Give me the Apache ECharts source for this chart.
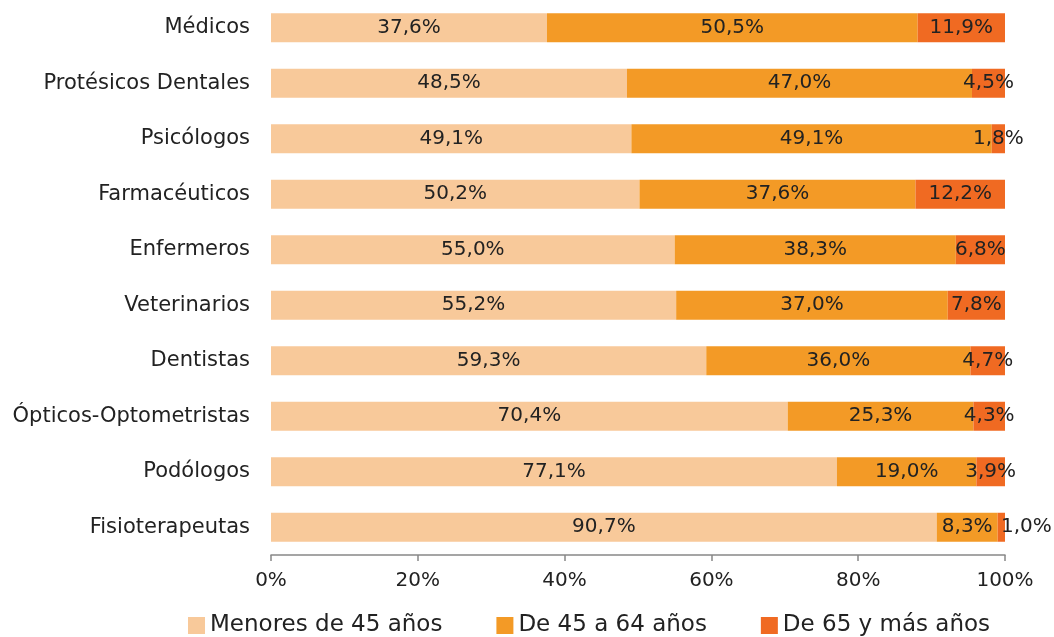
<!DOCTYPE html>
<html>
<head>
<meta charset="utf-8">
<script src="https://cdn.jsdelivr.net/npm/echarts@6/dist/echarts.min.js"></script>
<style>
  html, body { margin: 0; padding: 0; background: #fff; }
  #chart { width: 1054px; height: 637px; }
</style>
</head>
<body>
<div id="chart"></div>
<script>
let categories = ["Médicos", "Protésicos Dentales", "Psicólogos", "Farmacéuticos", "Enfermeros",
  "Veterinarios", "Dentistas", "Ópticos-Optometristas", "Podólogos", "Fisioterapeutas"];
let menores45 = [37.6, 48.5, 49.1, 50.2, 55.0, 55.2, 59.3, 70.4, 77.1, 90.7];
let de45a64 = [50.5, 47.0, 49.1, 37.6, 38.3, 37.0, 36.0, 25.3, 19.0, 8.3];
let de65mas = [11.9, 4.5, 1.8, 12.2, 6.8, 7.8, 4.7, 4.3, 3.9, 1.0];
let xTicks = [0, 20, 40, 60, 80, 100];

let font = "DejaVu Sans";
let textColor = "#222";

function pct(p) {
  return p.value.toFixed(1).replace(".", ",") + "%";
}

function makeSeries(name, values, color) {
  return {
    name: name,
    type: "bar",
    stack: "total",
    barWidth: 29,
    itemStyle: { color: color },
    label: {
      show: true,
      position: "inside",
      formatter: pct,
      color: textColor,
      fontFamily: font,
      fontSize: 20
    },
    data: values.map(function(v) {
      // the smallest slice of Fisioterapeutas sits outside the bar
      if (v < 1.5 && name === "De 65 y más años") {
        return { value: v, label: { position: "right", distance: -4 } };
      }
      return v;
    })
  };
}

let chart = echarts.init(document.getElementById("chart"));
let option = {
  animation: false,
  textStyle: { fontFamily: font },
  grid: { left: 271, right: 49, top: 0, bottom: 82, containLabel: false },
  xAxis: {
    type: "value",
    min: 0,
    max: 100,
    interval: 20,
    axisLine: { show: true, lineStyle: { color: "#888", width: 1.5 } },
    axisTick: { show: true, length: 6, lineStyle: { color: "#888", width: 1.5 } },
    splitLine: { show: false },
    axisLabel: {
      margin: 16,
      color: textColor,
      fontFamily: font,
      fontSize: 20,
      formatter: function(v) { return xTicks.indexOf(v) >= 0 ? v + "%" : ""; }
    }
  },
  yAxis: {
    type: "category",
    inverse: true,
    data: categories,
    axisLine: { show: false },
    axisTick: { show: false },
    axisLabel: {
      margin: 21,
      color: textColor,
      fontFamily: font,
      fontSize: 21
    }
  },
  legend: {
    top: 614,
    left: 188,
    padding: 0,
    itemWidth: 17,
    itemHeight: 17,
    itemGap: 54,
    icon: "rect",
    textStyle: { color: textColor, fontFamily: font, fontSize: 23 },
    data: ["Menores de 45 años", "De 45 a 64 años", "De 65 y más años"]
  },
  series: [
    makeSeries("Menores de 45 años", menores45, "#F8C99A"),
    makeSeries("De 45 a 64 años", de45a64, "#F39A26"),
    makeSeries("De 65 y más años", de65mas, "#F06A22")
  ]
};
chart.setOption(option);
</script>
</body>
</html>
